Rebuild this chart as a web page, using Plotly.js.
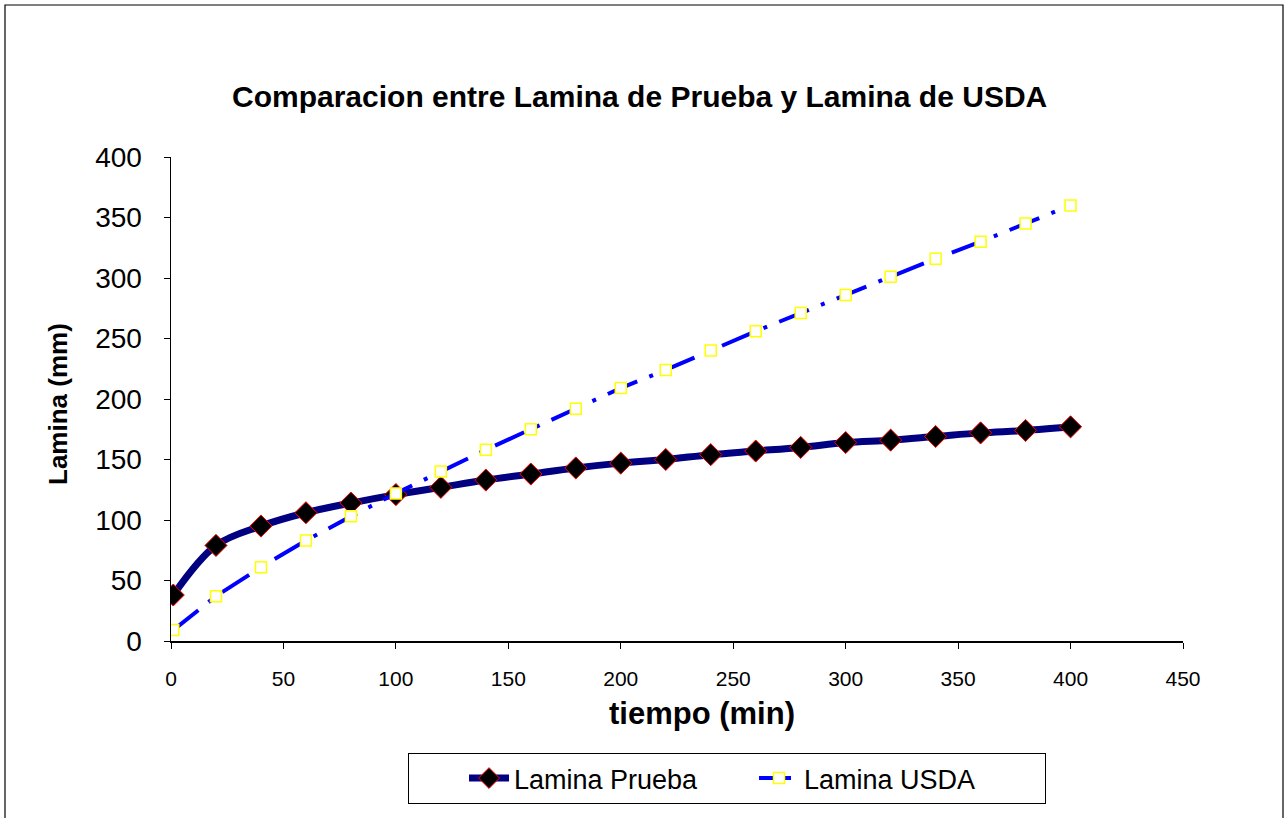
<!DOCTYPE html>
<html>
<head>
<meta charset="utf-8">
<script src="https://cdn.plot.ly/plotly-3.0.1.min.js"></script>
<style>
html,body{margin:0;padding:0;background:#fff;}
#chart{width:1288px;height:818px;}
</style>
</head>
<body>
<div id="chart"></div>
<script>
// Data
const tiempo = [1, 20, 40, 60, 80, 100, 120, 140, 160, 180, 200, 220, 240, 260, 280, 300, 320, 340, 360, 380, 400];
const laminaPrueba = [38, 79, 95, 106, 114, 121, 127, 133, 138, 143, 147, 150, 154, 157, 160, 164, 166, 169, 172, 174, 177];
const laminaUSDA = [9, 37, 61, 83, 103, 122, 140, 158, 175, 192, 209, 224, 240, 256, 271, 286, 301, 316, 330, 345, 360];
const yTicks = [0, 50, 100, 150, 200, 250, 300, 350, 400];
const xTicks = [0, 50, 100, 150, 200, 250, 300, 350, 400, 450];

const FONT = 'Liberation Sans, Arial, sans-serif';

const traces = [
  {
    x: tiempo, y: laminaPrueba, name: 'Lamina Prueba',
    type: 'scatter', mode: 'lines+markers',
    line: {color: '#000080', width: 7, shape: 'spline', smoothing: 1},
    marker: {symbol: 'diamond', size: 17, color: '#000000', line: {color: '#FF0000', width: 1}}
  },
  {
    x: tiempo, y: laminaUSDA, name: 'Lamina USDA',
    type: 'scatter', mode: 'lines+markers',
    line: {color: '#0000FF', width: 4, dash: '32px,13px,4px,13px'},
    marker: {symbol: 'square', size: 11, color: '#FFFFFF', line: {color: '#FFFF00', width: 1.5}}
  }
];

const layout = {
  width: 1288, height: 818,
  margin: {l: 171, r: 105, t: 157, b: 177, pad: 0},
  paper_bgcolor: '#FFFFFF', plot_bgcolor: '#FFFFFF',
  font: {family: FONT, color: '#000'},
  showlegend: true,
  legend: {
    orientation: 'h', x: (408 - 171) / 1012, y: (641 - 753) / 484, xanchor: 'left', yanchor: 'top',
    bordercolor: '#000', borderwidth: 1, bgcolor: '#fff',
    font: {family: FONT, size: 27, color: '#000'},
    title: {text: '&nbsp;&nbsp;&nbsp;&nbsp;&nbsp;&nbsp;', side: 'left', font: {family: FONT, size: 27, color: '#000'}},
    itemwidth: 40, entrywidth: 235, entrywidthmode: 'pixels'
  },
  xaxis: {
    range: [0, 450], tickvals: xTicks, ticktext: xTicks.map(String),
    showgrid: false, zeroline: false, showline: true, linecolor: '#000', linewidth: 1.5,
    ticks: 'outside', ticklen: 6, tickcolor: '#000', tickwidth: 1,
    tickfont: {family: FONT, size: 21, color: '#000'}, ticklabelstandoff: 12,
    fixedrange: true
  },
  yaxis: {
    range: [0, 400], tickvals: yTicks, ticktext: yTicks.map(String),
    showgrid: false, zeroline: false, showline: true, linecolor: '#000', linewidth: 1.5,
    ticks: 'outside', ticklen: 6, tickcolor: '#000', tickwidth: 1,
    tickfont: {family: FONT, size: 28, color: '#000'}, ticklabelstandoff: 16,
    fixedrange: true
  },
  annotations: [
    {text: '<b>Comparacion entre Lamina de Prueba y Lamina de USDA</b>', xref: 'paper', yref: 'paper',
     x: (639 - 171) / 1012, y: (641 - 97) / 484, xanchor: 'center', yanchor: 'middle', showarrow: false,
     font: {family: FONT, size: 30, color: '#000'}},
    {text: '<b>tiempo (min)</b>', xref: 'paper', yref: 'paper',
     x: (702 - 171) / 1012, y: (641 - 713) / 484, xanchor: 'center', yanchor: 'middle', showarrow: false,
     font: {family: FONT, size: 31, color: '#000'}},
    {text: '<b>Lamina (mm)</b>', xref: 'paper', yref: 'paper', textangle: -90,
     x: (58 - 171) / 1012, y: (641 - 404) / 484, xanchor: 'center', yanchor: 'middle', showarrow: false,
     font: {family: FONT, size: 26, color: '#000'}}
  ],
  shapes: [
    {type: 'rect', xref: 'paper', yref: 'paper', layer: 'below',
     x0: (5 - 171) / 1012, x1: (1283 - 171) / 1012, y0: (641 - 840) / 484, y1: (641 - 5) / 484,
     line: {color: '#000', width: 1.2}, fillcolor: 'rgba(0,0,0,0)'}
  ]
};

Plotly.newPlot('chart', traces, layout, {staticPlot: true, displayModeBar: false});
</script>
</body>
</html>
